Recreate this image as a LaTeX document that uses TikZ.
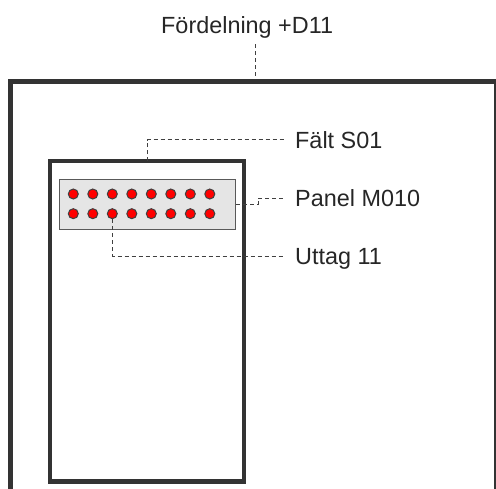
\documentclass[tikz,border=0pt]{standalone}
\usepackage{fontspec}
\setmainfont{Liberation Sans}
\begin{document}
\begin{tikzpicture}[x=1pt,y=-1pt,
  frame/.style={draw=black!80,line width=4.5pt},
  panelbox/.style={draw=black!65,fill=black!10,line width=1.3pt},
  dot/.style={circle,draw=black!75,line width=1pt,fill=red,minimum size=10pt,inner sep=0pt},
  leader/.style={draw=black!75,line width=1pt,dash pattern=on 4pt off 3pt},
  lbl/.style={anchor=base west,inner sep=0pt,font=\fontsize{23.4}{28}\selectfont,text=black!85}]
\useasboundingbox (0,0) rectangle (496,488);
\begin{scope}
\clip (0,0) rectangle (496,488);
\draw[frame] (10.5,81.5) rectangle (496,530);
\coordinate (outertop) at (255,79);
\end{scope}
\draw[frame] (50,161) rectangle (244,481.5);
\coordinate (fieldtop) at (147,161);
\node[panelbox,minimum width=176pt,minimum height=50pt,inner sep=0pt,anchor=north west] (panel) at (59,179) {};
\foreach \i in {0,...,7}{
  \node[dot] (a\i) at ({73.3+19.5*\i},194) {};
  \node[dot] (b\i) at ({73.3+19.5*\i},213.7) {};
}
\node[lbl] (lD) at (161,33) {Fördelning +D11};
\node[lbl] (lS) at (295,148) {Fält S01};
\node[lbl] (lM) at (295,206.7) {Panel M010};
\node[lbl] (lU) at (295,264.3) {Uttag 11};
\coordinate (lDb) at (255,44);
\coordinate (eS) at (285,139.7);
\coordinate (eM) at (285,198);
\coordinate (eU) at (285,256);
\draw[leader] (lDb) -- (outertop);
\draw[leader] (fieldtop) |- (eS);
\draw[leader] (panel.east |- 0,204) -- (258,204) -- (258,198) -- (eM);
\draw[leader] (b2.south) -- (112.3,256) -- (eU);
\end{tikzpicture}
\end{document}
